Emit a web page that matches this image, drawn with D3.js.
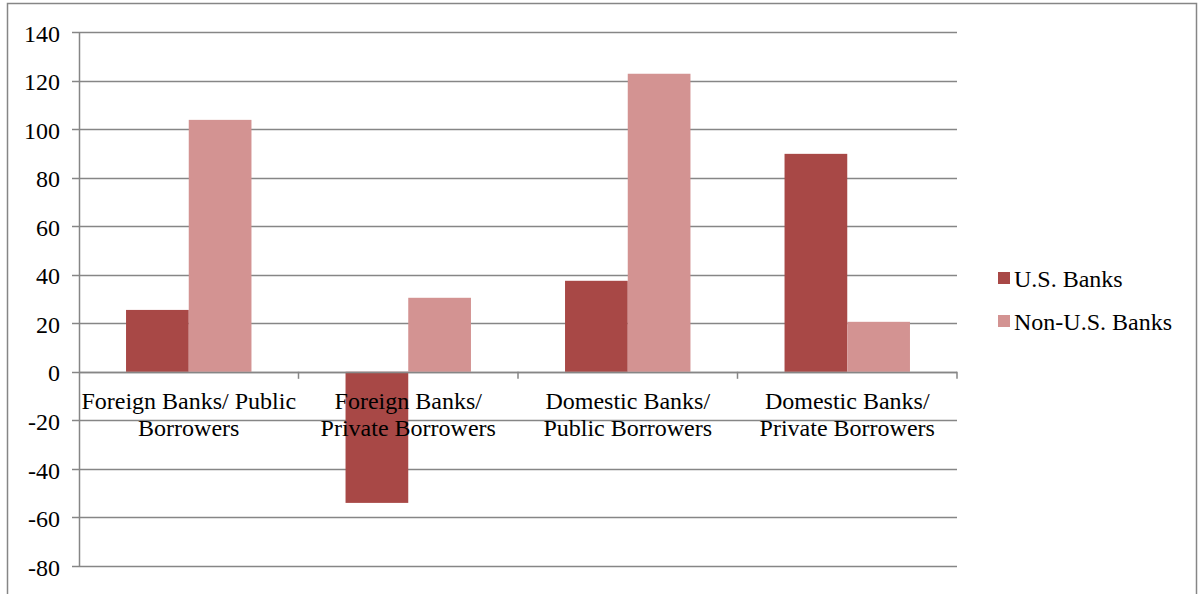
<!DOCTYPE html>
<html><head><meta charset="utf-8">
<script src="https://cdn.jsdelivr.net/npm/d3@7"></script>
<style>body{margin:0;background:#fff}svg{display:block}</style>
</head><body><svg id="c" width="1199" height="594"></svg>
<script>
const categories = ["Foreign Banks/ Public|Borrowers","Foreign Banks/|Private Borrowers","Domestic Banks/|Public Borrowers","Domestic Banks/|Private Borrowers"];
const seriesNames = ["U.S. Banks","Non-U.S. Banks"];
const usBanks = [25.5, -54, 37.5, 89.8];
const nonUsBanks = [103.8, 30.5, 122.8, 20.6];
const yTicks = [-80,-60,-40,-20,0,20,40,60,80,100,120,140];
const colors = ["#A84846","#D39392"];

const FONT = "'Liberation Serif', 'Times New Roman', 'DejaVu Serif', serif";
const FS = "24px";
const svg = d3.select("#c");
const L = 79, R = 957, T = 32, B = 566;
svg.append("rect").attr("x",7.5).attr("y",3.5).attr("width",1189).attr("height",600)
  .attr("fill","none").attr("stroke","#868686").attr("stroke-width",1.5);
const y = d3.scaleLinear().domain([-80,140]).range([B,T]);
const x0 = d3.scaleBand().domain(d3.range(categories.length)).range([L,R]).paddingInner(0).paddingOuter(0);
const bw = x0.bandwidth()/3.5;

svg.append("g").selectAll("line").data(yTicks).join("line")
  .attr("x1",L-7).attr("x2",R).attr("y1",d=>Math.round(y(d))+0.5).attr("y2",d=>Math.round(y(d))+0.5)
  .attr("stroke","#868686").attr("stroke-width",1.5);
svg.append("g").selectAll("text").data(yTicks).join("text")
  .attr("x",60).attr("y",d=>y(d)).attr("dy","0.4em").attr("text-anchor","end")
  .style("font-family",FONT).style("font-size",FS).attr("fill","#000").text(d=>d);
svg.append("line").attr("x1",L+0.5).attr("x2",L+0.5).attr("y1",T).attr("y2",B)
  .attr("stroke","#868686").attr("stroke-width",1.5);

const series = [usBanks, nonUsBanks];
series.forEach((vals,si)=>{
  svg.append("g").selectAll("rect").data(vals).join("rect")
    .attr("x",(d,i)=>x0(i)+0.75*bw+si*bw)
    .attr("width",bw)
    .attr("y",d=>y(Math.max(0,d)))
    .attr("height",d=>Math.abs(y(d)-y(0)))
    .attr("fill",colors[si]);
});
svg.append("line").attr("x1",L).attr("x2",R).attr("y1",Math.round(y(0))+0.5).attr("y2",Math.round(y(0))+0.5)
  .attr("stroke","#868686").attr("stroke-width",1.5);
svg.append("g").selectAll("line").data(d3.range(1,categories.length+1)).join("line")
  .attr("x1",i=>x0(0)+i*x0.bandwidth()).attr("x2",i=>x0(0)+i*x0.bandwidth())
  .attr("y1",y(0)).attr("y2",y(0)+7).attr("stroke","#868686").attr("stroke-width",1.5);
categories.forEach((c,i)=>{
  const lines = c.split("|");
  const t = svg.append("text").attr("text-anchor","middle")
    .style("font-family",FONT).style("font-size",FS).attr("fill","#000");
  lines.forEach((ln,j)=>t.append("tspan").attr("x",x0(i)+x0.bandwidth()/2).attr("y",409+j*27).text(ln));
});
seriesNames.forEach((n,i)=>{
  svg.append("rect").attr("x",998).attr("y",272+i*43).attr("width",12).attr("height",12).attr("fill",colors[i]);
  svg.append("text").attr("x",1014).attr("y",279+i*43).attr("dy","0.35em")
    .style("font-family",FONT).style("font-size",FS).attr("fill","#000").text(n);
});
</script></body></html>
